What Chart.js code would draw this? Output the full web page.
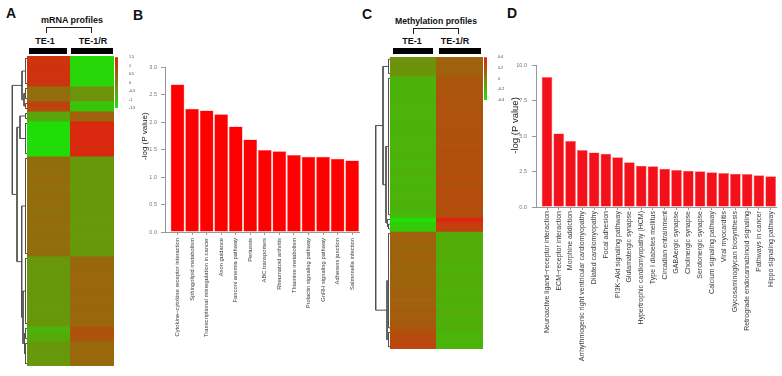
<!DOCTYPE html>
<html><head><meta charset="utf-8">
<script src="https://cdn.jsdelivr.net/npm/chart.js@4.4.1/dist/chart.umd.min.js"></script>
<style>
html,body{margin:0;padding:0;background:#fff;}
body{width:782px;height:376px;position:relative;overflow:hidden;font-family:'Liberation Sans',Arial,sans-serif;}
canvas{position:absolute;}
.t{position:absolute;white-space:nowrap;font-weight:bold;color:#111;}
.lt{font-size:14px;line-height:14px;}
.hd{font-size:9px;line-height:9px;text-align:center;width:120px;}
.br{position:absolute;border:1.2px solid #222;border-bottom:none;box-sizing:border-box;}
.bb{position:absolute;background:#000;}
</style></head><body>
<div class="t lt" style="left:6px;top:6px">A</div>
<div class="t lt" style="left:133px;top:8px">B</div>
<div class="t lt" style="left:362px;top:7px">C</div>
<div class="t lt" style="left:507px;top:6px">D</div>

<div class="t hd" style="left:12px;top:16.4px">mRNA profiles</div>
<div class="br" style="left:46px;top:27px;width:46px;height:6px"></div>
<div class="t hd" style="left:-15px;top:36.7px">TE-1</div>
<div class="t hd" style="left:33px;top:36.7px">TE-1/R</div>
<div class="bb" style="left:29px;top:48px;width:38px;height:5.5px"></div>
<div class="bb" style="left:71px;top:48px;width:42px;height:5.5px"></div>

<div class="t hd" style="left:376px;top:17.4px;font-size:8.7px">Methylation profiles</div>
<div class="br" style="left:413px;top:28px;width:46px;height:6px"></div>
<div class="t hd" style="left:352px;top:37.4px">TE-1</div>
<div class="t hd" style="left:395px;top:37.4px">TE-1/R</div>
<div class="bb" style="left:393px;top:48px;width:40px;height:6px"></div>
<div class="bb" style="left:439px;top:48px;width:42px;height:6px"></div>

<canvas id="dendA" width="18" height="310" style="left:10px;top:56px"></canvas>
<canvas id="heatA" width="87" height="310" style="left:27px;top:56px"></canvas>
<canvas id="cbarA" width="22" height="62" style="left:114px;top:52px"></canvas>
<canvas id="barB" width="240" height="321" style="left:130px;top:55px"></canvas>
<canvas id="dendC" width="18" height="292" style="left:373px;top:57px"></canvas>
<canvas id="heatC" width="93" height="292" style="left:390px;top:57px"></canvas>
<canvas id="cbarC" width="22" height="55" style="left:483px;top:52px"></canvas>
<canvas id="barD" width="282" height="326" style="left:500px;top:50px"></canvas>

<script>
// ---------- data ----------
const bCats = ["Cytokine\u2212cytokine receptor interaction","Sphingolipid metabolism","Transcriptional misregulation in cancer","Axon guidance","Fanconi anemia pathway","Pertussis","ABC transporters","Rheumatoid arthritis","Thiamine metabolism","Prolactin signaling pathway","GnRH signaling pathway","Adherens junction","Salmonella infection"];
const bVals = [2.68, 2.24, 2.21, 2.14, 1.92, 1.68, 1.49, 1.47, 1.40, 1.37, 1.37, 1.33, 1.30];
const bTicks = [0, 0.5, 1.0, 1.5, 2.0, 2.5, 3.0];

const dCats = ["Neuroactive ligand\u2212receptor interaction","ECM\u2212receptor interaction","Morphine addiction","Arrhythmogenic right ventricular cardiomyopathy","Dilated cardiomyopathy","Focal adhesion","PI3K\u2212Akt signaling pathway","Glutamatergic synapse","Hypertrophic cardiomyopathy (HCM)","Type I diabetes mellitus","Circadian entrainment","GABAergic synapse","Cholinergic synapse","Serotonergic synapse","Calcium signaling pathway","Viral myocarditis","Glycosaminoglycan biosynthesis","Retrograde endocannabinoid signaling","Pathways in cancer","Hippo signaling pathway"];
const dVals = [9.15, 5.18, 4.65, 4.01, 3.84, 3.75, 3.51, 3.15, 2.91, 2.87, 2.70, 2.61, 2.56, 2.51, 2.44, 2.39, 2.34, 2.32, 2.23, 2.16];
const dTicks = [0, 2.5, 5.0, 7.5, 10.0];

const heatCols = ["TE-1", "TE-1/R"];

const mrnaTE1 = [1.15,1.2,1.22,1.18,1.2,1.12, 0.3,0.26,0.32, 0.95,0.9, -0.55,-0.6,
 -1.4,-1.42,-1.38,-1.42,-1.4,-1.36,-1.4,
 0.3,0.32,0.28,0.3,0.34,0.3,0.28,0.32,0.3,0.3,0.26,0.3,0.32,0.3,0.28,0.3,0.32,0.28,0.3,0.3,
 -0.35,-0.33,-0.36,-0.35,-0.32,-0.35,-0.37,-0.35,-0.33,-0.35,-0.36,-0.34,-0.35,-0.33,
 -0.75,-0.7,-0.62, -0.35,-0.32,-0.36,-0.34,-0.35];
const mrnaTE1R = [-1.3,-1.32,-1.3,-1.28,-1.3,-1.25, -0.27,-0.3,-0.25, -1.05,-1.0, 0.5,0.45,
 1.35,1.32,1.36,1.33,1.35,1.3,1.34,
 -0.35,-0.33,-0.37,-0.35,-0.34,-0.36,-0.35,-0.33,-0.35,-0.37,-0.35,-0.34,-0.36,-0.35,-0.33,-0.35,-0.36,-0.34,-0.35,-0.35,
 0.4,0.38,0.41,0.4,0.37,0.4,0.42,0.39,0.4,0.38,0.41,0.4,0.39,0.4,
 0.7,0.75,0.65, 0.38,0.36,0.4,0.38,0.36];
const mrnaRange = [-1.5, 1.5];
const mrnaStep = 0.5;

const methTE1 = [-0.07,-0.06,-0.08,-0.07,
 -0.19,-0.2,-0.19,-0.21,-0.2,-0.19,-0.2,-0.2,-0.21,-0.19,-0.2,-0.2,-0.19,-0.21,-0.2,-0.2,-0.19,-0.2,-0.21,-0.2,-0.19,-0.2,-0.2,-0.21,-0.19,-0.2,-0.2,-0.19,-0.21,-0.22,
 -0.38, -0.3,-0.28,
 0.12,0.13,0.12,0.11,0.12,0.13,0.12,0.12,0.11,0.13,0.12,0.12,0.13,0.14,0.12,0.13,0.14,0.15,0.14,0.16,0.17,
 0.2,0.22,0.23,0.24];
const methTE1R = [0.12,0.13,0.12,0.14,
 0.17,0.18,0.17,0.18,0.19,0.18,0.19,0.18,0.19,0.19,0.18,0.19,0.2,0.19,0.19,0.2,0.19,0.2,0.2,0.19,0.2,0.21,0.2,0.2,0.21,0.2,0.21,0.21,0.2,0.21,
 0.37, 0.28,0.26,
 -0.17,-0.18,-0.17,-0.18,-0.18,-0.17,-0.18,-0.19,-0.18,-0.18,-0.17,-0.18,-0.19,-0.18,-0.18,-0.19,-0.18,-0.18,-0.19,-0.18,-0.18,
 -0.2,-0.2,-0.21,-0.2];
const methRange = [-0.4, 0.4];
const methStep = 0.2;

// dendrogram links: [rowA, rowB, mergeHeight, heightA, heightB]
const dendroMrna = [
 [0.5,5.5,1.5,0,0],[6.5,8.5,1.5,0,0],[9.5,10.5,1.5,0,0],[11.5,12.5,1.5,0,0],[13.5,19.5,1.5,0,0],
 [20.5,39.5,1.5,0,0],[40.5,53.5,1.5,0,0],[54.5,56.5,1.5,0,0],[57.5,61.5,1.5,0,0],
 [7.5,10,3,1.5,1.5],[3,8.75,5,1.5,3],[12,16.5,7,1.5,1.5],[55.5,59.5,2.5,1.5,1.5],
 [47,57.5,4,1.5,2.5],[30,52.25,5.3,1.5,4],[14.25,41.125,10,7,5.3],[5.875,27.69,14.7,5,10]
];
const dendroMeth = [
 [0.5,3.5,1.5,0,0],[4.5,33.5,1.5,0,0],[35.5,36.5,1.5,0,0],[37.5,57.5,1.5,0,0],[58.5,61.5,1.5,0,0],
 [34.5,36,2.5,0,1.5],[19,35.25,4,1.5,2.5],[2,27.125,7,1.5,4],[47.5,60,3,1.5,1.5],[14.56,53.75,14.3,7,3]
];

// ---------- drawing ----------
Chart.defaults.font.family = "'Liberation Sans', Arial, sans-serif";
const GREEN = [25, 228, 8], RED = [228, 30, 15];
function heatColor(v, range) {
  let t = (v - range[0]) / (range[1] - range[0]);
  t = Math.max(0, Math.min(1, t));
  const c = GREEN.map((g, i) => Math.round(g + (RED[i] - g) * t));
  return 'rgb(' + c.join(',') + ')';
}
const base = {animation:false, responsive:false, devicePixelRatio:1,
  plugins:{legend:{display:false}, tooltip:{enabled:false}}};

function heatmap(id, te1, te1r, range) {
  const datasets = te1.map((v, i) => ({data:[1,1],
    backgroundColor:[heatColor(v, range), heatColor(te1r[i], range)],
    borderWidth:0, inflateAmount:0.5, barPercentage:1, categoryPercentage:1}));
  new Chart(document.getElementById(id), {type:'bar', data:{labels:heatCols, datasets},
    options:{...base, layout:{padding:0},
      scales:{x:{display:false, stacked:true}, y:{display:false, stacked:true, min:0, max:te1.length, reverse:true}}}});
}
function dendro(id, links, nRows, maxH) {
  const datasets = links.map(([ya, yb, h, ha, hb]) => ({
    data:[{x:ha,y:ya},{x:h,y:ya},{x:h,y:yb},{x:hb,y:yb}],
    showLine:true, pointRadius:0, borderColor:'#505050', borderWidth:1, tension:0}));
  new Chart(document.getElementById(id), {type:'scatter', data:{datasets},
    options:{...base, layout:{padding:0},
      scales:{x:{display:false, type:'linear', min:-1, max:maxH, reverse:true},
              y:{display:false, type:'linear', min:0, max:nRows, reverse:true}}}});
}
function colorbar(id, range, step, padBottom) {
  new Chart(document.getElementById(id), {type:'bar',
    data:{labels:[''], datasets:[{data:[[range[0], range[1]]], borderWidth:0, barPercentage:1, categoryPercentage:1,
      backgroundColor:(c) => {
        const ca = c.chart.chartArea; if (!ca) return 'rgba(0,0,0,0)';
        const g = c.chart.ctx.createLinearGradient(0, ca.bottom, 0, ca.top);
        g.addColorStop(0, heatColor(range[0], range)); g.addColorStop(1, heatColor(range[1], range));
        return g; }}]},
    options:{...base, layout:{padding:{left:1, top:5, bottom:padBottom, right:0}},
      scales:{x:{display:false},
        y:{position:'right', min:range[0], max:range[1],
           ticks:{stepSize:step, font:{size:3.6}, color:'#333', padding:3, callback:(v) => String(+v.toFixed(2))},
           grid:{display:false}, border:{display:false}, afterFit:(s) => {s.width = 18;}}}}});
}
function barChart(id, cats, vals, ticksArr, o) {
  new Chart(document.getElementById(id), {type:'bar',
    data:{datasets:[{data:vals.map((v, i) => ({x:i, y:v})), backgroundColor:o.color,
      borderColor:o.border, borderWidth:o.bw, barPercentage:o.bp, categoryPercentage:1}]},
    options:{...base, layout:{padding:{top:o.padTop, right:o.padRight, left:0, bottom:0}},
      scales:{
        x:{type:'linear', offset:false, min:o.xmin, max:o.xmax,
           afterBuildTicks:(s) => {s.ticks = cats.map((_, i) => ({value:i}));},
           ticks:{autoSkip:false, minRotation:90, maxRotation:90, font:{size:o.xfont}, color:'#3a3a3a',
                  padding:o.xpad, callback:(v, i) => cats[i]},
           grid:{offset:false, drawOnChartArea:false, tickLength:3, color:'#999'},
           border:{color:'#999'}, afterFit:(s) => {s.height = o.xh;}},
        y:{min:ticksArr[0], max:ticksArr[ticksArr.length-1],
           afterBuildTicks:(s) => {s.ticks = ticksArr.map((v) => ({value:v}));},
           ticks:{font:{size:5.5}, color:'#777', padding:o.ypad, callback:(v) => v.toFixed(1)},
           grid:{drawOnChartArea:false, tickLength:4, color:'#999'}, border:{color:'#999'},
           title:{display:true, text:o.title, font:{size:o.tfont}, color:'#222', padding:{top:o.tpad, bottom:0}},
           afterFit:(s) => {s.width = o.yw;}}}}});
}

dendro('dendA', dendroMrna, mrnaTE1.length, 17);
heatmap('heatA', mrnaTE1, mrnaTE1R, mrnaRange);
colorbar('cbarA', mrnaRange, mrnaStep, 6);
dendro('dendC', dendroMeth, methTE1.length, 17);
heatmap('heatC', methTE1, methTE1R, methRange);
colorbar('cbarC', methRange, methStep, 7);

barChart('barB', bCats, bVals, bTicks, {color:'#ff0000', border:'#ff5a5a', bw:0.5, bp:0.94,
  padTop:12, padRight:11, xmin:-0.86, xmax:12.47, xfont:5.8, xpad:3, xh:144, ypad:4,
  title:'            -log (P value)', tfont:8, tpad:9.6, yw:35});
barChart('barD', dCats, dVals, dTicks, {color:'#f4101b', border:'#ff6a6a', bw:0.6, bp:0.91,
  padTop:15, padRight:6, xmin:-0.935, xmax:19.45, xfont:7, xpad:1, xh:169, ypad:5,
  title:'        -log (P value)', tfont:9.5, tpad:9.3, yw:36});
</script>
</body></html>
